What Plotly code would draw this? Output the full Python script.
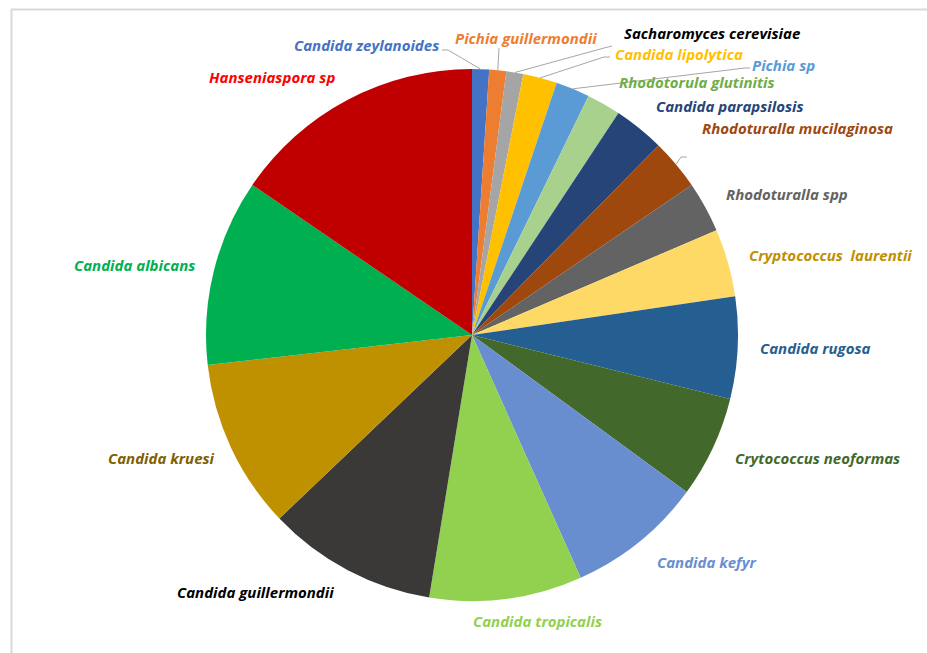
import math
import plotly.graph_objects as go

labels = ["Candida zeylanoides", "Pichia guillermondii", "Sacharomyces cerevisiae",
          "Candida lipolytica", "Pichia sp", "Rhodotorula glutinitis",
          "Candida parapsilosis", "Rhodoturalla mucilaginosa", "Rhodoturalla spp",
          "Cryptococcus  laurentii", "Candida rugosa", "Crytococcus neoformas",
          "Candida kefyr", "Candida tropicalis", "Candida guillermondii",
          "Candida kruesi", "Candida albicans", "Hanseniaspora sp"]
values = [1, 1, 1, 2, 2, 2, 3, 3, 3, 4, 6, 6, 8, 9, 10, 10, 11, 15]

slice_colors = ["#4472C4", "#ED7D31", "#A5A5A5", "#FFC000", "#5B9BD5", "#A9D18E",
                "#264478", "#9E480E", "#636363", "#FFD966", "#255E91", "#43682B",
                "#698ED0", "#92D050", "#3B3838", "#BF9000", "#00B050", "#C00000"]
text_colors = ["#4472C4", "#ED7D31", "#000000", "#FFC000", "#5B9BD5", "#70AD47",
               "#264478", "#9E480E", "#636363", "#BF9000", "#255E91", "#43682B",
               "#698ED0", "#92D050", "#000000", "#7F6000", "#00B050", "#FF0000"]

W, H = 927, 653
CX, CY, R = 472, 335, 266

# label text centres (pixels)
label_pos = [(366, 45), (526, 38), (712, 33), (679, 54), (783, 65), (697, 82),
             (730, 106), (797, 128), (787, 194), (830, 255), (815, 348), (817, 458),
             (706, 562), (537, 621), (256, 592), (161, 458), (134, 265), (272, 77)]

# leader line starts at label side (pixels), keyed by slice index
leaders = {0: [(442, 50), (448, 50)], 1: [(499, 48)], 2: [(612, 46), (604, 48)],
           3: [(610, 57), (604, 57)], 4: [(750, 68), (745, 68)], 7: [(687, 157), (681, 157)]}

def px(x):
    return x / W

def py(y):
    return 1 - y / H

fig = go.Figure(go.Pie(
    labels=labels, values=values, sort=False, direction="clockwise", rotation=0,
    marker=dict(colors=slice_colors, line=dict(width=0)),
    textinfo="none", hoverinfo="label+value",
    domain=dict(x=[px(CX - R), px(CX + R)], y=[py(CY + R), py(CY - R)]),
    showlegend=False,
))

total = sum(values)
cum = 0
shapes = []
for i, v in enumerate(values):
    mid = (cum + v / 2) / total * 2 * math.pi
    cum += v
    if i in leaders:
        ax, ay = CX + R * math.sin(mid), CY - R * math.cos(mid)
        pts = leaders[i] + [(ax, ay)]
        path = "M " + " L ".join(f"{px(x)},{py(y)}" for x, y in pts)
        shapes.append(dict(type="path", xref="paper", yref="paper", path=path,
                           line=dict(color="#A6A6A6", width=1)))

# chart frame (top and left edges visible)
shapes.append(dict(type="line", xref="paper", yref="paper", x0=px(11), x1=1.0,
                   y0=py(9.5), y1=py(9.5), line=dict(color="#D9D9D9", width=2)))
shapes.append(dict(type="line", xref="paper", yref="paper", x0=px(11.5), x1=px(11.5),
                   y0=py(9), y1=0, line=dict(color="#D9D9D9", width=2)))

annotations = []
for lab, (x, y), c in zip(labels, label_pos, text_colors):
    annotations.append(dict(text=f"<b><i>{lab}</i></b>", x=px(x), y=py(y),
                            xref="paper", yref="paper", showarrow=False,
                            xanchor="center", yanchor="middle",
                            font=dict(family="Open Sans", size=15, color=c)))

fig.update_layout(width=W, height=H, margin=dict(l=0, r=0, t=0, b=0),
                  paper_bgcolor="white", plot_bgcolor="white",
                  shapes=shapes, annotations=annotations)
fig.write_html("out.html")
